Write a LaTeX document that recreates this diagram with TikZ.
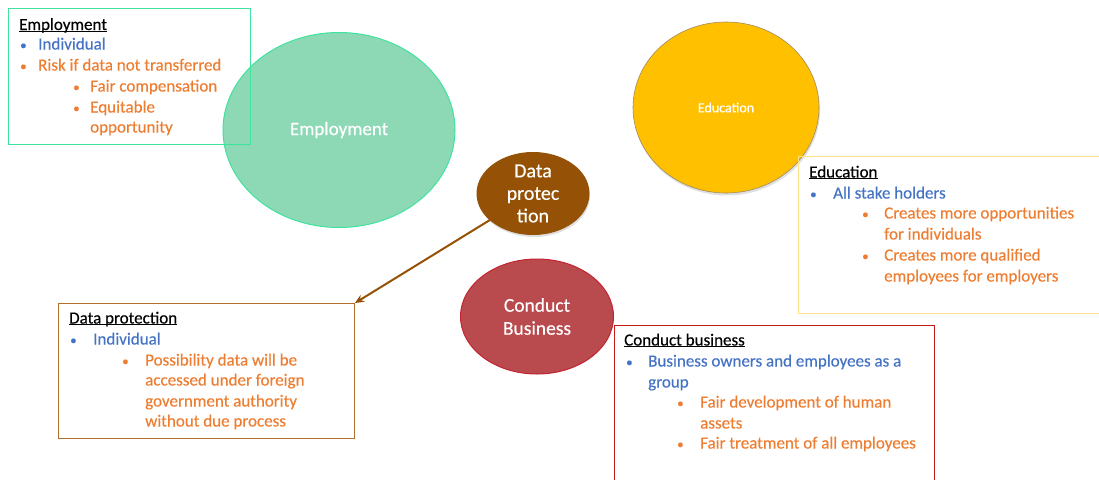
\documentclass[tikz,border=0pt]{standalone}
\usepackage{fontspec}
\setmainfont{Carlito}[UprightFeatures={FakeBold=0.35}]
\usetikzlibrary{shapes.geometric,shadows,arrows.meta}

\definecolor{empfill}{HTML}{8ED9B5}
\definecolor{empline}{HTML}{3EE39E}
\definecolor{edufill}{HTML}{FFC000}
\definecolor{eduline}{HTML}{A38A5C}
\definecolor{edubox}{HTML}{FFE28A}
\definecolor{dpfill}{HTML}{955206}
\definecolor{dpbox}{HTML}{B0702E}
\definecolor{cbfill}{HTML}{B94A4D}
\definecolor{cbline}{HTML}{C42330}
\definecolor{cbbox}{HTML}{C41A1A}
\definecolor{txtblue}{HTML}{4472C4}
\definecolor{txtorange}{HTML}{ED7D31}

% underlined heading with the rule close to the baseline
\newcommand{\headul}[1]{\setbox0\hbox{#1}\rlap{\rule[-1.8pt]{\wd0}{0.9pt}}\box0}

\tikzset{
  topic/.style={ellipse, inner sep=0pt, text=white, align=center, line width=1pt},
  infobox/.style={draw, rectangle, anchor=north west, inner sep=0pt, line width=1pt},
  head/.style={anchor=base west, inner sep=0pt, font=\fontsize{17}{20}\selectfont},
  bulletmark/.style={anchor=base west, inner sep=0pt, font=\fontsize{13}{15}\selectfont},
  line1/.style={anchor=base west, inner sep=0pt, text=txtblue, font=\fontsize{17}{20}\selectfont},
  line2/.style={anchor=base west, inner sep=0pt, text=txtorange, font=\fontsize{17}{20}\selectfont},
}

\begin{document}
\begin{tikzpicture}[x=1pt, y=-1pt]
\useasboundingbox (0,0) rectangle (1099,479);

% ---------- Employment ----------
\node[topic, fill=empfill, draw=empline, minimum width=232pt, minimum height=195pt,
      font=\fontsize{19}{22}\selectfont] (emp) at (339,130) {Employment};
\node[infobox, draw=empline, minimum width=242pt, minimum height=136pt] (empbox) at (8,8) {};
\node[head] (emph) at (19,30) {\headul{Employment}};
\node[bulletmark, text=txtblue] (empb1) at (20,49.5) {\textbullet};
\node[line1] (empt1) at (38,49.5) {Individual};
\node[bulletmark, text=txtorange] (empb2) at (20,70.5) {\textbullet};
\node[line2] (empt2) at (38,70.5) {Risk if data not transferred};
\node[bulletmark, text=txtorange] (empb3) at (73,91.5) {\textbullet};
\node[line2] (empt3) at (90,91.5) {Fair compensation};
\node[bulletmark, text=txtorange] (empb4) at (73,112.5) {\textbullet};
\node[line2] (empt4) at (90,112.5) {Equitable};
\node[line2] (empt5) at (90,132.5) {opportunity};

% ---------- Education ----------
\node[topic, fill=edufill, draw=eduline, line width=0.6pt, minimum width=186pt, minimum height=171pt,
      drop shadow={opacity=0.25, shadow xshift=1pt, shadow yshift=-2.5pt},
      font=\fontsize{14}{16}\selectfont] (edu) at (726,107.5) {Education};
\node[infobox, draw=edubox, minimum width=305pt, minimum height=157pt] (edubx) at (798,156) {};
\node[head] (eduh) at (809,177.5) {\headul{Education}};
\node[bulletmark, text=txtblue] (edub1) at (810,198.5) {\textbullet};
\node[line1] (edut1) at (833,198.5) {All stake holders};
\node[bulletmark, text=txtorange] (edub2) at (862,218.5) {\textbullet};
\node[line2] (edut2) at (884,218.5) {Creates more opportunities};
\node[line2] (edut3) at (884,239.5) {for individuals};
\node[bulletmark, text=txtorange] (edub3) at (862,260.5) {\textbullet};
\node[line2] (edut4) at (884,260.5) {Creates more qualified};
\node[line2] (edut5) at (884,281.5) {employees for employers};

% ---------- Data protection ----------
\node[topic, fill=dpfill, draw=dpfill, minimum width=112pt, minimum height=72pt,
      drop shadow={opacity=0.25, shadow xshift=1pt, shadow yshift=-2.5pt},
      font=\fontsize{20}{22.5}\selectfont] (dp) at (533,193.5) {Data\\protec\\tion};
\node[infobox, draw=dpbox, minimum width=296pt, minimum height=135pt] (dpbx) at (58,303) {};
\node[head] (dph) at (69,323.5) {\headul{Data protection}};
\node[bulletmark, text=txtblue] (dpb1) at (70,344.5) {\textbullet};
\node[line1] (dpt1) at (93,344.5) {Individual};
\node[bulletmark, text=txtorange] (dpb2) at (122,365.5) {\textbullet};
\node[line2] (dpt2) at (145,365.5) {Possibility data will be};
\node[line2] (dpt3) at (145,385.5) {accessed under foreign};
\node[line2] (dpt4) at (145,406.5) {government authority};
\node[line2] (dpt5) at (145,426.5) {without due process};

\draw[dpfill, line width=2pt, -{Stealth[length=9pt,width=8pt]}] (dp) -- (dpbx.north east);

% ---------- Conduct business ----------
\node[topic, fill=cbfill, draw=cbline, minimum width=153pt, minimum height=115pt,
      font=\fontsize{19.5}{23}\selectfont] (cb) at (537,316.5) {Conduct\\Business};
\node[infobox, draw=cbbox, minimum width=320pt, minimum height=160pt] (cbbx) at (614,325) {};
\node[head] (cbh) at (624,345.5) {\headul{Conduct business}};
\node[bulletmark, text=txtblue] (cbb1) at (626,366.5) {\textbullet};
\node[line1] (cbt1) at (648,366.5) {Business owners and employees as a};
\node[line1] (cbt2) at (648,387.5) {group};
\node[bulletmark, text=txtorange] (cbb2) at (677,407.5) {\textbullet};
\node[line2] (cbt3) at (700,407.5) {Fair development of human};
\node[line2] (cbt4) at (700,428.5) {assets};
\node[bulletmark, text=txtorange] (cbb3) at (677,448.5) {\textbullet};
\node[line2] (cbt5) at (700,448.5) {Fair treatment of all employees};
\end{tikzpicture}
\end{document}
